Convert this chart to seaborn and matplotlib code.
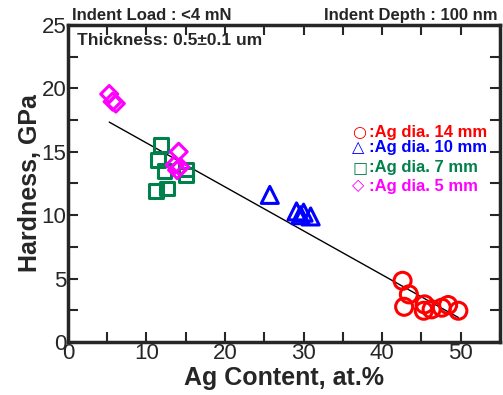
import numpy as np
import pandas as pd
import seaborn as sns
import matplotlib.pyplot as plt
from matplotlib.ticker import MultipleLocator

# Ag 14 mm target
ag14_x = [42.6, 43.4, 42.8, 45.4, 45.3, 46.3, 47.6, 48.4, 49.7]
ag14_y = [4.83, 3.76, 2.78, 2.97, 2.47, 2.58, 2.71, 2.92, 2.47]
# Ag 10 mm target
ag10_x = [25.7, 29.1, 29.6, 30.0, 30.9]
ag10_y = [11.6, 10.3, 10.0, 10.2, 9.9]
# Ag 7 mm target
ag7_x = [11.85, 11.5, 12.3, 15.0, 15.0, 11.2, 12.6]
ag7_y = [15.5, 14.35, 13.5, 13.2, 13.6, 11.9, 12.1]
# Ag 5 mm target
ag5_x = [5.26, 5.7, 6.1, 14.1, 13.6, 13.9, 14.3]
ag5_y = [19.55, 18.95, 18.8, 15.0, 13.96, 13.56, 13.8]

symbols = ['○', '△', '□', '◇']
labels = [':Ag dia. 14 mm', ':Ag dia. 10 mm', ':Ag dia. 7 mm', ':Ag dia. 5 mm']
colors = ['#ff0000', '#0000ff', '#00804a', '#ff00ff']
markers = ['o', '^', 's', 'D']
sizes = [150, 150, 100, 75]

sns.set_style('ticks')
plt.rcParams['font.family'] = ['Liberation Sans', 'DejaVu Sans']

fig = plt.figure(figsize=(5.03, 3.95), dpi=100)
ax = fig.add_axes([0.135, 0.134, 0.859, 0.803])

groups = [(ag14_x, ag14_y), (ag10_x, ag10_y), (ag7_x, ag7_y), (ag5_x, ag5_y)]
all_x, all_y = [], []
for (gx, gy), c, m, s in zip(groups, colors, markers, sizes):
    df = pd.DataFrame({'x': gx, 'y': gy})
    sns.scatterplot(data=df, x='x', y='y', marker=m, s=s, facecolors='none',
                    edgecolor=c, linewidth=2.2, ax=ax, zorder=3)
    all_x += gx
    all_y += gy

# linear fit over all points
fit_df = pd.DataFrame({'x': all_x, 'y': all_y})
sns.regplot(data=fit_df, x='x', y='y', scatter=False, ci=None, truncate=True,
            color='black', line_kws={'linewidth': 1}, ax=ax)

ax.set_xlim(0, 55)
ax.set_ylim(0, 25)
ax.xaxis.set_major_locator(MultipleLocator(10))
ax.xaxis.set_minor_locator(MultipleLocator(5))
ax.yaxis.set_major_locator(MultipleLocator(5))
ax.yaxis.set_minor_locator(MultipleLocator(2.5))
ax.tick_params(which='both', direction='in', top=True, right=True,
               length=7, width=1.5, labelsize=16, pad=1)
for sp in ax.spines.values():
    sp.set_linewidth(2.5)

ax.set_xlabel('Ag Content, at.%', fontsize=18, fontweight='bold', labelpad=1)
ax.set_ylabel('Hardness, GPa', fontsize=18, fontweight='bold', labelpad=0)

ax.text(0.01, 1.005, 'Indent Load : <4 mN', transform=ax.transAxes,
        fontsize=12, fontweight='bold', ha='left', va='bottom')
ax.text(0.995, 1.005, 'Indent Depth : 100 nm', transform=ax.transAxes,
        fontsize=12, fontweight='bold', ha='right', va='bottom')
ax.text(0.02, 0.975, 'Thickness: 0.5±0.1 um', transform=ax.transAxes,
        fontsize=12.5, fontweight='bold', ha='left', va='top')

legend_y = [0.66, 0.612, 0.549, 0.492]
for sym, lab, c, ly in zip(symbols, labels, colors, legend_y):
    ax.text(0.658, ly, sym, transform=ax.transAxes, color=c,
            fontsize=11.5, family='DejaVu Sans', fontweight='bold',
            ha='left', va='center')
    ax.text(0.697, ly, lab, transform=ax.transAxes, color=c,
            fontsize=12, fontweight='bold', ha='left', va='center')

fig.savefig('out.png', dpi=100)
